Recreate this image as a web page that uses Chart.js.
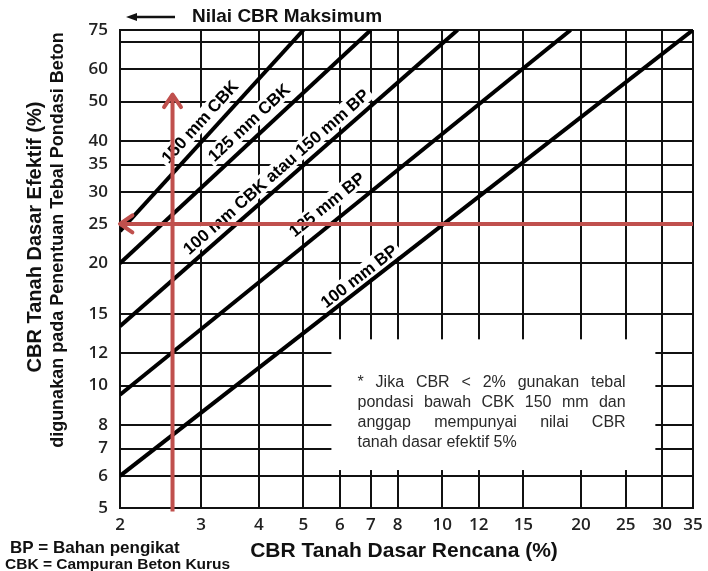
<!DOCTYPE html>
<html>
<head>
<meta charset="utf-8">
<script src="https://cdn.jsdelivr.net/npm/chart.js@4.4.1/dist/chart.umd.min.js"></script>
<style>
  body { margin: 0; background: #fff; }
  canvas { display: block; }
</style>
</head>
<body>
<canvas id="grafik" width="708" height="571"></canvas>
<script>
// sumbu (skala log)
var xTicks = [2, 3, 4, 5, 6, 7, 8, 10, 12, 15, 20, 25, 30, 35];
var yTicks = [5, 6, 7, 8, 10, 12, 15, 20, 25, 30, 35, 40, 50, 60, 70, 75];
var yLabels = [5, 6, 7, 8, 10, 12, 15, 20, 25, 30, 35, 40, 50, 60, 75]; // garis 70 tanpa label

// garis tebal pondasi : CBR rencana (x) -> CBR efektif (y)
var names = ['150 mm CBK', '125 mm CBK', '100 mm CBK atau 150 mm BP', '125 mm BP', '100 mm BP'];
var cbrRencana = [[2, 5], [2, 7], [2, 10.8], [2, 19], [2, 35]];
var cbrEfektif = [[24, 75], [20, 75], [14, 75], [9.5, 75], [6, 75]];
// titik tengah label tiap garis
var labelX = [2.98, 3.81, 4.36, 5.62, 6.6];
var labelY = [44.6, 44.4, 33.6, 27.9, 18.6];

// contoh pembacaan (panah merah)
var contohX = [2.6, 2.6];
var contohY = [4.9, 52];
var hasilX = [35, 2];
var hasilY = [25, 25];

// catatan
var noteLines = ['* Jika CBR < 2% gunakan tebal', 'pondasi bawah CBK 150 mm dan', 'anggap mempunyai nilai CBR', 'tanah dasar efektif 5%'];
var noteX = [6.55, 25];
var noteY = 10.2;
var noteBoxX = [5.75, 29];
var noteBoxY = [6.2, 13];

function toPoints(xs, ys) {
  var pts = [];
  for (var i = 0; i < xs.length; i++) pts.push({x: xs[i], y: ys[i]});
  return pts;
}

var datasets = [];
for (var i = 0; i < names.length; i++) {
  datasets.push({
    label: names[i],
    data: toPoints(cbrRencana[i], cbrEfektif[i]),
    borderColor: '#000',
    borderWidth: 4,
    pointRadius: 0,
    order: 2
  });
}
datasets.push({label: 'contoh', data: toPoints(contohX, contohY), borderColor: '#c0504d', borderWidth: 4, pointRadius: 0, clip: false, arrow: true, order: 1});
datasets.push({label: 'hasil', data: toPoints(hasilX, hasilY), borderColor: '#c0504d', borderWidth: 4, pointRadius: 0, clip: false, arrow: true, order: 1});

// label, catatan, judul, panah
var gambarTeks = {
  id: 'gambarTeks',
  beforeDatasetsDraw: function(chart) {
    var ctx = chart.ctx, xs = chart.scales.x, ys = chart.scales.y;
    ctx.save();
    // kotak putih catatan
    var bx0 = xs.getPixelForValue(noteBoxX[0]), bx1 = xs.getPixelForValue(noteBoxX[1]);
    var by0 = ys.getPixelForValue(noteBoxY[1]), by1 = ys.getPixelForValue(noteBoxY[0]);
    ctx.fillStyle = '#fff';
    ctx.fillRect(bx0, by0, bx1 - bx0, by1 - by0);

    // teks catatan rata kiri-kanan
    var nx0 = xs.getPixelForValue(noteX[0]), nx1 = xs.getPixelForValue(noteX[1]);
    var ny = ys.getPixelForValue(noteY);
    ctx.font = '16px "Liberation Sans", Arial, sans-serif';
    ctx.fillStyle = '#2a2a2a';
    ctx.textBaseline = 'middle';
    ctx.textAlign = 'left';
    for (var i = 0; i < noteLines.length; i++) {
      var y = ny + i * 20;
      var words = noteLines[i].split(' ');
      if (i == noteLines.length - 1) {
        ctx.fillText(noteLines[i], nx0, y);
        continue;
      }
      var total = 0;
      words.forEach(function(w) { total += ctx.measureText(w).width; });
      var gap = (nx1 - nx0 - total) / (words.length - 1);
      var x = nx0;
      words.forEach(function(w) {
        ctx.fillText(w, x, y);
        x += ctx.measureText(w).width + gap;
      });
    }

    // label garis
    ctx.font = 'bold 17px "Liberation Sans", Arial, sans-serif';
    ctx.textAlign = 'center';
    for (var j = 0; j < names.length; j++) {
      var p0x = xs.getPixelForValue(cbrRencana[j][0]), p0y = ys.getPixelForValue(cbrEfektif[j][0]);
      var p1x = xs.getPixelForValue(cbrRencana[j][1]), p1y = ys.getPixelForValue(cbrEfektif[j][1]);
      var ang = Math.atan2(p1y - p0y, p1x - p0x);
      var w = ctx.measureText(names[j]).width;
      ctx.save();
      ctx.translate(xs.getPixelForValue(labelX[j]), ys.getPixelForValue(labelY[j]));
      ctx.rotate(ang);
      ctx.fillStyle = '#fff';
      ctx.fillRect(-w / 2 - 3, -9, w + 6, 18);
      ctx.fillStyle = '#000';
      ctx.fillText(names[j], 0, 1);
      ctx.restore();
    }
    ctx.restore();
  },
  afterDatasetsDraw: function(chart) {
    var ctx = chart.ctx;
    ctx.save();
    chart.data.datasets.forEach(function(ds, k) {
      if (!ds.arrow) return;
      var pts = chart.getDatasetMeta(k).data;
      var a = pts[pts.length - 2], b = pts[pts.length - 1];
      var ang = Math.atan2(b.y - a.y, b.x - a.x);
      ctx.strokeStyle = ds.borderColor;
      ctx.lineWidth = 4;
      ctx.lineCap = 'round';
      ctx.lineJoin = 'round';
      ctx.beginPath();
      ctx.moveTo(b.x - 15 * Math.cos(ang - 0.6), b.y - 15 * Math.sin(ang - 0.6));
      ctx.lineTo(b.x, b.y);
      ctx.lineTo(b.x - 15 * Math.cos(ang + 0.6), b.y - 15 * Math.sin(ang + 0.6));
      ctx.stroke();
    });
    ctx.restore();
  },
  afterDraw: function(chart) {
    var ctx = chart.ctx, area = chart.chartArea;
    ctx.save();
    ctx.fillStyle = '#111';
    // panah "Nilai CBR Maksimum"
    ctx.strokeStyle = '#111';
    ctx.lineWidth = 2.5;
    ctx.beginPath();
    ctx.moveTo(area.left + 12, area.top - 13);
    ctx.lineTo(area.left + 55, area.top - 13);
    ctx.stroke();
    ctx.beginPath();
    ctx.moveTo(area.left + 6, area.top - 13);
    ctx.lineTo(area.left + 17, area.top - 17);
    ctx.lineTo(area.left + 17, area.top - 9);
    ctx.closePath();
    ctx.fill();
    ctx.font = 'bold 19px "Liberation Sans", Arial, sans-serif';
    ctx.textAlign = 'left';
    ctx.textBaseline = 'middle';
    ctx.fillText('Nilai CBR Maksimum', area.left + 72, area.top - 13);

    // judul sumbu x
    ctx.font = 'bold 21px "Liberation Sans", Arial, sans-serif';
    ctx.textAlign = 'center';
    ctx.fillText('CBR Tanah Dasar Rencana (%)', 404, 551);

    // judul sumbu y (dua baris)
    ctx.save();
    ctx.translate(35, 237);
    ctx.rotate(-Math.PI / 2);
    ctx.font = 'bold 20px "Liberation Sans", Arial, sans-serif';
    ctx.fillText('CBR Tanah Dasar Efektif (%)', 0, 0);
    ctx.restore();
    ctx.save();
    ctx.translate(58, 240);
    ctx.rotate(-Math.PI / 2);
    ctx.font = 'bold 18px "Liberation Sans", Arial, sans-serif';
    ctx.fillText('digunakan pada Penentuan Tebal Pondasi Beton', 0, 0);
    ctx.restore();

    // keterangan singkatan
    ctx.textAlign = 'left';
    ctx.font = 'bold 17px "Liberation Sans", Arial, sans-serif';
    ctx.fillText('BP = Bahan pengikat', 10, 548);
    ctx.font = 'bold 15.5px "Liberation Sans", Arial, sans-serif';
    ctx.fillText('CBK = Campuran Beton Kurus', 5, 565);
    ctx.restore();
  }
};

var tickFont = { family: '"Open Sans", sans-serif', size: 17, weight: '600' };

var ctx = document.getElementById('grafik').getContext('2d');
var grafik = new Chart(ctx, {
  type: 'line',
  data: { datasets: datasets },
  options: {
    responsive: false,
    animation: false,
    devicePixelRatio: 1,
    layout: { padding: { left: 0, top: 30, right: 15, bottom: 0 } },
    plugins: { legend: { display: false }, tooltip: { enabled: false } },
    scales: {
      x: {
        type: 'logarithmic',
        min: 2,
        max: 35,
        afterBuildTicks: function(scale) {
          scale.ticks = xTicks.map(function(v) { return {value: v}; });
        },
        afterFit: function(scale) {
          scale.height = 63;
          scale.paddingLeft = 0;
          scale.paddingRight = 0;
        },
        grid: { color: '#111', lineWidth: 2, drawTicks: false },
        border: { color: '#111', width: 2 },
        ticks: {
          autoSkip: false,
          maxRotation: 0,
          padding: 7,
          color: '#222',
          font: tickFont,
          callback: function(v) { return String(v); }
        }
      },
      y: {
        type: 'logarithmic',
        min: 5,
        max: 75,
        afterBuildTicks: function(scale) {
          scale.ticks = yTicks.map(function(v) { return {value: v}; });
        },
        afterFit: function(scale) {
          scale.width = 120;
          scale.paddingTop = 0;
          scale.paddingBottom = 0;
        },
        grid: { color: '#111', lineWidth: 2, drawTicks: false },
        border: { color: '#111', width: 2 },
        ticks: {
          autoSkip: false,
          padding: 12,
          color: '#222',
          font: tickFont,
          callback: function(v) { return yLabels.indexOf(v) >= 0 ? String(v) : ''; }
        }
      }
    }
  },
  plugins: [gambarTeks]
});
</script>
</body>
</html>
